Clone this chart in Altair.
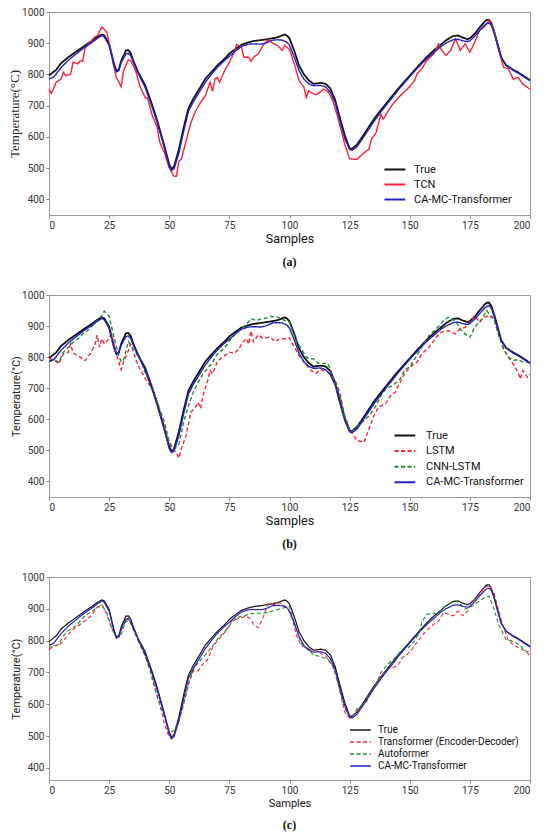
import altair as alt
import pandas as pd

# ---------------- data ----------------
TRUE_X = [0, 3, 5, 8, 10, 13, 15, 18, 20, 22, 23, 25, 27, 28, 29, 30, 32, 33, 34, 35, 37, 40, 43, 45, 48, 50, 51, 52, 54, 56, 58, 60, 63, 65, 68, 70, 73, 75, 78, 80, 83, 85, 88, 90, 93, 95, 97, 98, 99, 100, 102, 104, 106, 108, 110, 113, 115, 117, 119, 121, 123, 125, 126, 128, 130, 133, 135, 138, 140, 143, 145, 148, 150, 153, 155, 158, 160, 163, 165, 168, 170, 172, 174, 175, 177, 179, 181, 182, 183, 184, 185, 187, 188, 190, 193, 195, 198, 200]
TRUE_Y = [797, 815, 836, 855, 866, 882, 893, 908, 920, 928, 925, 898, 835, 812, 815, 843, 877, 878, 868, 845, 808, 765, 700, 652, 570, 512, 497, 505, 560, 630, 692, 722, 760, 786, 812, 829, 850, 867, 884, 895, 903, 907, 910, 912, 916, 919, 925, 928, 924, 915, 875, 828, 800, 781, 770, 773, 770, 755, 718, 660, 605, 563, 562, 575, 597, 632, 656, 686, 705, 734, 753, 779, 796, 822, 839, 863, 877, 896, 909, 923, 925, 918, 913, 916, 930, 950, 968, 975, 975, 963, 940, 885, 855, 830, 815, 807, 792, 782]

CAMC_X = [0, 2, 5, 8, 10, 13, 15, 18, 20, 22, 23, 25, 27, 28, 29, 30, 32, 33, 34, 35, 37, 40, 43, 45, 48, 50, 51, 52, 54, 56, 58, 60, 63, 65, 68, 70, 73, 75, 78, 80, 83, 85, 88, 90, 93, 95, 97, 99, 100, 102, 104, 106, 108, 110, 113, 115, 117, 119, 121, 123, 125, 126, 128, 130, 133, 135, 138, 140, 143, 145, 148, 150, 153, 155, 158, 160, 163, 165, 168, 170, 172, 174, 175, 177, 179, 181, 182, 183, 184, 185, 187, 188, 190, 193, 195, 198, 200]
CAMC_Y = [785, 792, 822, 845, 858, 876, 888, 903, 915, 925, 920, 893, 830, 808, 812, 838, 866, 868, 860, 840, 805, 758, 693, 645, 565, 505, 493, 498, 548, 618, 682, 712, 750, 775, 805, 823, 845, 858, 878, 890, 897, 898, 897, 900, 910, 911, 910, 903, 893, 855, 812, 785, 770, 764, 765, 760, 743, 710, 650, 595, 560, 557, 568, 590, 625, 648, 680, 700, 728, 748, 775, 793, 818, 835, 857, 870, 890, 900, 911, 913, 908, 905, 908, 922, 940, 957, 963, 965, 957, 935, 880, 855, 830, 813, 805, 790, 780]

TCN_X = [0, 1, 3, 5, 6, 7, 9, 10, 12, 13, 14, 15, 17, 19, 20, 22, 24, 25, 27, 28, 30, 31, 33, 34, 36, 38, 40, 41, 43, 45, 46, 48, 50, 52, 53, 54, 55, 57, 59, 61, 63, 65, 67, 68, 69, 70, 71, 73, 75, 77, 78, 80, 81, 83, 84, 85, 87, 89, 91, 93, 95, 97, 98, 100, 102, 104, 105, 106, 107, 108, 109, 111, 113, 114, 116, 118, 120, 123, 125, 128, 130, 132, 133, 134, 136, 138, 139, 141, 143, 146, 149, 152, 153, 155, 157, 160, 162, 163, 165, 167, 169, 171, 173, 175, 177, 179, 181, 183, 185, 187, 189, 191, 193, 195, 197, 200]
TCN_Y = [753, 739, 775, 785, 807, 796, 801, 839, 834, 844, 842, 885, 903, 920, 923, 952, 936, 903, 823, 791, 761, 812, 847, 844, 812, 759, 726, 724, 667, 630, 585, 549, 501, 474, 474, 522, 528, 587, 646, 683, 710, 732, 775, 746, 785, 791, 775, 812, 839, 871, 896, 889, 855, 855, 842, 855, 866, 893, 911, 900, 893, 877, 893, 880, 834, 780, 769, 760, 726, 748, 742, 735, 745, 753, 745, 716, 665, 576, 530, 528, 542, 555, 560, 592, 614, 673, 657, 683, 705, 732, 753, 780, 801, 818, 844, 866, 898, 880, 861, 877, 914, 877, 898, 871, 903, 941, 952, 973, 941, 877, 823, 818, 785, 791, 769, 753]

LSTM_X = [0, 2, 4, 6, 8, 9, 10, 13, 15, 17, 19, 20, 21, 22, 23, 24, 26, 28, 30, 31, 33, 34, 35, 37, 39, 41, 43, 45, 47, 49, 51, 53, 54, 55, 57, 59, 61, 62, 63, 64, 66, 67, 68, 70, 72, 74, 75, 77, 79, 80, 82, 83, 84, 85, 87, 89, 92, 94, 96, 98, 100, 102, 104, 106, 109, 111, 113, 116, 119, 121, 123, 125, 128, 131, 133, 135, 137, 140, 142, 144, 146, 148, 151, 153, 155, 158, 160, 161, 163, 166, 169, 171, 173, 175, 177, 179, 181, 183, 185, 187, 189, 191, 193, 195, 196, 197, 199, 200]
LSTM_Y = [796, 792, 778, 810, 816, 842, 814, 800, 789, 810, 837, 871, 832, 859, 843, 850, 875, 810, 760, 784, 821, 842, 820, 773, 746, 719, 698, 644, 601, 548, 505, 494, 475, 505, 548, 623, 640, 655, 635, 675, 725, 757, 746, 785, 800, 810, 816, 812, 826, 842, 860, 842, 884, 850, 872, 860, 865, 850, 859, 859, 862, 832, 805, 785, 757, 748, 760, 752, 725, 685, 605, 567, 532, 526, 569, 610, 639, 650, 676, 687, 719, 751, 773, 784, 810, 832, 853, 864, 880, 885, 875, 891, 896, 912, 934, 912, 928, 934, 923, 880, 826, 800, 778, 751, 730, 757, 735, 745]

CNNLSTM_X = [0, 2, 4, 6, 8, 10, 12, 14, 16, 18, 20, 22, 23, 25, 27, 29, 30, 31, 33, 35, 38, 40, 42, 45, 48, 50, 52, 54, 56, 58, 60, 62, 64, 66, 68, 70, 72, 74, 76, 78, 80, 82, 84, 86, 88, 90, 92, 95, 98, 100, 101, 103, 105, 107, 108, 110, 112, 114, 116, 118, 121, 123, 125, 126, 128, 130, 133, 136, 138, 140, 143, 146, 148, 150, 152, 155, 158, 161, 164, 166, 169, 171, 173, 175, 177, 180, 182, 183, 185, 187, 189, 191, 193, 195, 197, 200]
CNNLSTM_Y = [789, 792, 784, 816, 832, 848, 859, 875, 885, 901, 917, 934, 948, 932, 864, 805, 785, 790, 850, 826, 794, 751, 719, 655, 591, 526, 505, 520, 591, 644, 687, 719, 746, 764, 784, 810, 822, 840, 862, 878, 891, 905, 924, 918, 922, 925, 931, 929, 918, 913, 890, 850, 825, 800, 795, 795, 780, 780, 779, 740, 675, 610, 570, 560, 578, 590, 610, 644, 676, 698, 709, 730, 760, 768, 794, 832, 869, 891, 917, 928, 917, 891, 875, 864, 896, 923, 950, 939, 923, 869, 826, 800, 789, 792, 785, 784]

TRANS_X = [0, 2, 4, 6, 8, 10, 12, 14, 16, 18, 20, 22, 24, 26, 28, 29, 30, 32, 33, 35, 37, 40, 42, 44, 46, 48, 50, 51, 52, 54, 56, 58, 60, 62, 64, 66, 68, 70, 72, 74, 76, 78, 80, 82, 84, 85, 87, 89, 91, 94, 96, 99, 101, 103, 105, 107, 109, 111, 113, 115, 117, 119, 121, 123, 125, 127, 129, 132, 135, 138, 141, 143, 145, 147, 149, 151, 153, 155, 157, 160, 162, 164, 166, 168, 170, 172, 174, 176, 179, 181, 183, 185, 187, 189, 191, 193, 195, 198, 200]
TRANS_Y = [770, 784, 784, 800, 820, 836, 846, 857, 867, 883, 904, 912, 883, 841, 810, 808, 831, 867, 872, 836, 800, 752, 716, 653, 601, 538, 496, 491, 501, 548, 601, 663, 705, 705, 726, 742, 778, 800, 815, 836, 862, 867, 872, 877, 867, 851, 841, 872, 916, 914, 919, 904, 872, 815, 783, 778, 770, 768, 760, 752, 731, 705, 640, 575, 556, 570, 587, 608, 653, 690, 712, 716, 721, 747, 757, 773, 794, 815, 831, 852, 862, 888, 883, 878, 893, 878, 893, 920, 946, 967, 972, 951, 893, 841, 800, 789, 778, 768, 752]

AUTO_X = [0, 2, 4, 6, 8, 10, 12, 14, 16, 18, 20, 22, 24, 26, 28, 30, 32, 34, 36, 38, 40, 42, 44, 46, 48, 50, 51, 52, 54, 56, 58, 60, 62, 64, 66, 68, 70, 72, 74, 76, 78, 80, 82, 84, 87, 91, 95, 98, 100, 102, 105, 108, 110, 113, 116, 118, 120, 122, 124, 126, 128, 131, 133, 136, 138, 141, 144, 147, 149, 152, 154, 155, 157, 160, 162, 164, 166, 169, 171, 173, 175, 177, 179, 181, 183, 185, 187, 190, 192, 194, 196, 198, 200]
AUTO_Y = [780, 780, 789, 815, 831, 841, 852, 872, 883, 893, 904, 912, 888, 841, 810, 820, 862, 857, 825, 789, 752, 705, 648, 601, 559, 519, 515, 517, 548, 601, 663, 710, 731, 747, 763, 784, 805, 820, 836, 857, 872, 877, 880, 885, 886, 888, 898, 904, 907, 855, 790, 770, 755, 750, 740, 720, 670, 610, 570, 558, 585, 603, 625, 663, 700, 726, 747, 773, 775, 799, 825, 857, 883, 885, 888, 904, 914, 925, 914, 899, 904, 914, 925, 935, 940, 900, 850, 804, 800, 794, 784, 768, 763]

X_TICKS = [0, 25, 50, 75, 100, 125, 150, 175, 200]
Y_TICKS = [400, 500, 600, 700, 800, 900, 1000]

SANS = "Roboto"
SERIF = "Liberation Serif"
BLACK = "#111111"
RED = "#ff2038"
GREEN = "#1e8c2e"
BLUE = "#2323c4"
SOLID = [1, 0]
DASH = [4, 2.5]


def panel(series, colors, dashes, widths, ydom, ytitle_font, ytitle_size,
          xtitle_size, leg, title, height):
    names = [s[0] for s in series]
    frames = [pd.DataFrame({"Samples": xs, "Temperature": ys, "Model": n})
              for n, xs, ys in series]
    df = pd.concat(frames, ignore_index=True)
    legend = alt.Legend(
        title=None, orient="none", legendX=leg["x"], legendY=leg["y"],
        symbolType="M-2.6,0H2.6", symbolSize=64, symbolStrokeWidth=leg["sw"],
        labelFont=SANS, labelFontSize=leg["fs"], labelColor="#111111",
        labelOffset=leg["lo"], rowPadding=leg["rp"], padding=0,
    )
    xenc = alt.X(
        "Samples:Q", scale=alt.Scale(domain=[0, 200], nice=False, zero=False),
        axis=alt.Axis(values=X_TICKS, format="d", title="Samples", titleFont=SANS,
                      titleFontSize=xtitle_size, titleFontWeight="normal",
                      titleColor="#111111", titlePadding=2, labelFont=SANS,
                      labelFontSize=10, labelColor="#333333", labelPadding=2,
                      tickSize=3, tickColor="#888888", domainColor="#999999",
                      grid=False),
    )
    yenc = alt.Y(
        "Temperature:Q", scale=alt.Scale(domain=ydom, nice=False, zero=False),
        axis=alt.Axis(values=Y_TICKS, format="d", title="Temperature(°C)", titleFont=ytitle_font,
                      titleFontSize=ytitle_size, titleFontWeight="normal",
                      titleColor="#222222", titlePadding=0, labelFont=SANS,
                      labelFontSize=10, labelColor="#333333", labelPadding=2,
                      tickSize=3, tickColor="#888888", domainColor="#999999",
                      grid=False),
    )
    color = alt.Color("Model:N", scale=alt.Scale(domain=names, range=colors), legend=legend)
    dash = alt.StrokeDash("Model:N", scale=alt.Scale(domain=names, range=dashes), legend=legend)
    layers = []
    for n, w in zip(names, widths):
        layers.append(
            alt.Chart(df).transform_filter(alt.datum.Model == n)
            .mark_line(strokeWidth=w)
            .encode(x=xenc, y=yenc, color=color, strokeDash=dash)
        )
    return alt.layer(*layers).properties(
        width=481, height=height,
        title=alt.TitleParams(title, orient="bottom", anchor="middle", font=SERIF,
                              fontSize=12, fontWeight="bold", color="#111111", offset=12),
    )


pa = panel(
    [("True", TRUE_X, TRUE_Y), ("TCN", TCN_X, TCN_Y), ("CA-MC-Transformer", CAMC_X, CAMC_Y)],
    [BLACK, RED, BLUE], [SOLID, SOLID, SOLID], [1.8, 1.4, 1.4],
    [350, 1000], SERIF, 13, 12.5,
    {"x": 340.4, "y": 152, "fs": 11, "lo": 13.6, "rp": 3, "sw": 2}, "(a)", 203,
)
pb = panel(
    [("True", TRUE_X, TRUE_Y), ("LSTM", LSTM_X, LSTM_Y), ("CNN-LSTM", CNNLSTM_X, CNNLSTM_Y),
     ("CA-MC-Transformer", CAMC_X, CAMC_Y)],
    [BLACK, RED, GREEN, BLUE], [SOLID, DASH, DASH, SOLID], [1.8, 1.4, 1.4, 1.4],
    [350, 1000], SANS, 11, 12.5,
    {"x": 350.4, "y": 135, "fs": 11, "lo": 15.6, "rp": 3.6, "sw": 2}, "(b)", 202,
)
pc = panel(
    [("True", TRUE_X, TRUE_Y), ("Transformer (Encoder-Decoder)", TRANS_X, TRANS_Y),
     ("Autoformer", AUTO_X, AUTO_Y), ("CA-MC-Transformer", CAMC_X, CAMC_Y)],
    [BLACK, RED, GREEN, BLUE], [SOLID, DASH, DASH, SOLID], [1.2, 1.1, 1.1, 1.2],
    [362, 1000], SANS, 11, 11,
    {"x": 306.4, "y": 148, "fs": 10, "lo": 12.6, "rp": 2, "sw": 1.4}, "(c)", 203,
)

chart = (
    alt.vconcat(pa, pb, pc, spacing=80, bounds="flush")
    .resolve_scale(color="independent", strokeDash="independent")
    .properties(padding={"left": 0, "top": -2, "right": 5, "bottom": 5}, background="white")
    .configure_view(stroke="#999999", strokeWidth=1)
)

chart.save("out.html", embed_options={"renderer": "svg", "actions": False})
